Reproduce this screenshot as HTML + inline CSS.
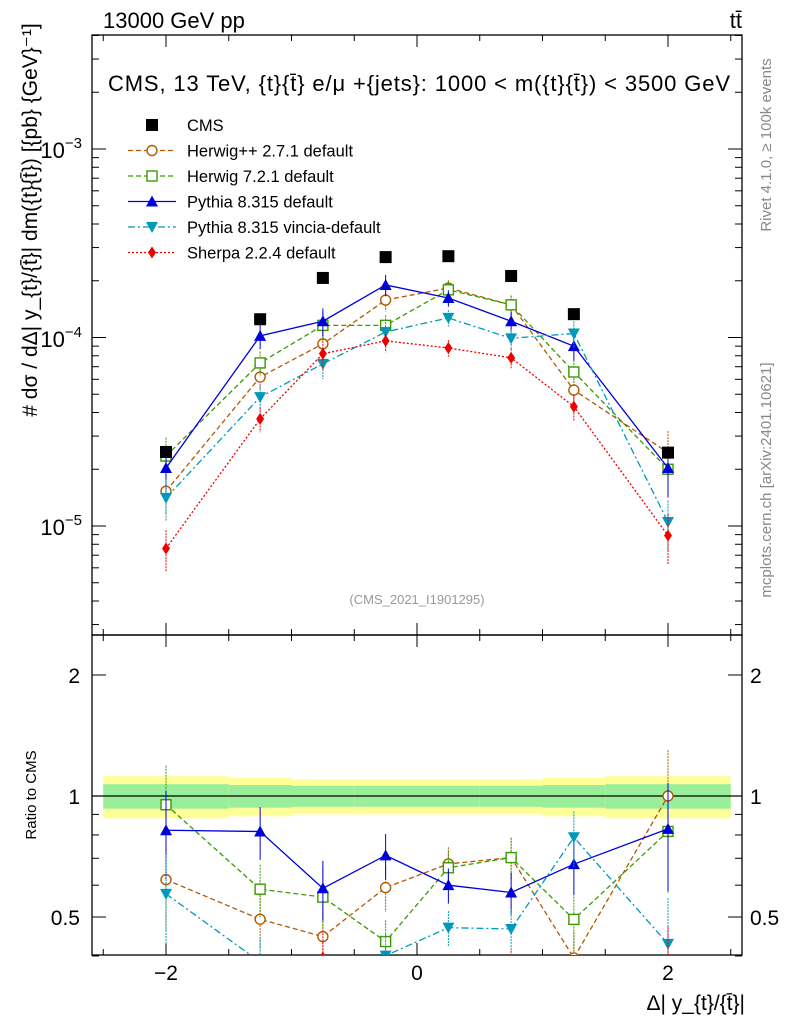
<!DOCTYPE html>
<html><head><meta charset="utf-8"><style>
html,body{margin:0;padding:0;background:#fff;}
svg{display:block;font-family:"Liberation Sans",sans-serif;}
</style></head><body>
<svg id="c" width="786" height="1024" viewBox="0 0 786 1024"></svg>
<script>
const categories=[-2,-1.25,-0.75,-0.25,0.25,0.75,1.25,2];
const cmsVals=[2.47e-5,1.25e-4,2.07e-4,2.67e-4,2.7e-4,2.12e-4,1.33e-4,2.45e-5];
const herwigppVals=[1.53e-5,6.17e-5,9.25e-5,1.58e-4,1.83e-4,1.49e-4,5.26e-5,2.45e-5];
const herwig7Vals=[2.35e-5,7.33e-5,1.16e-4,1.16e-4,1.79e-4,1.49e-4,6.56e-5,2.0e-5];
const pythiaVals=[2.03e-5,1.02e-4,1.22e-4,1.9e-4,1.62e-4,1.22e-4,9.0e-5,2.03e-5];
const vinciaVals=[1.41e-5,4.83e-5,7.25e-5,1.07e-4,1.27e-4,9.9e-5,1.05e-4,1.05e-5];
const sherpaVals=[7.6e-6,3.7e-5,8.2e-5,9.6e-5,8.8e-5,7.8e-5,4.3e-5,8.9e-6];
const binEdges=[-2.5,-1.5,-1,-0.5,0,0.5,1,1.5,2.5];
const bandOuter=[0.12,0.11,0.10,0.10,0.10,0.10,0.11,0.12];
const bandInner=[0.07,0.065,0.06,0.06,0.06,0.06,0.065,0.07];
const relErr=[0.25,0.15,0.17,0.13,0.1,0.12,0.16,0.3];
const xTicks=[-2,0,2];
const xTickLabels=["\u22122","0","2"];

const svg=document.getElementById('c');const NS="http://www.w3.org/2000/svg";
function el(t,a,p){const e=document.createElementNS(NS,t);for(const k in a)e.setAttribute(k,a[k]);(p||svg).appendChild(e);return e;}
const L=92,R=742,T=35,M=635,B=955;
const X=v=>417+v*125.5;
const Y=v=>149-(Math.log10(v)+3)*188.5;
const YR=v=>796-Math.log10(v)*402;

let f=el('rect',{x:L,y:T,width:R-L,height:M-T,fill:'none',stroke:'#000','stroke-width':1.3});

f=el('rect',{x:L,y:M,width:R-L,height:B-M,fill:'none',stroke:'#000','stroke-width':1.3});


for(let v=-2.5;v<=2.51;v+=0.5){const maj=Math.abs(v-Math.round(v))<1e-6&&Math.round(v)%2===0;const len=maj?12:6;const x=X(v);
 for(const [y0,d] of [[T,1],[M,-1],[M,1],[B,-1]])el('line',{x1:x,y1:y0,x2:x,y2:y0+d*len,stroke:'#000'});}
xTicks.forEach((v,i)=>{const t=el('text',{x:X(v),y:980,'font-size':21,'text-anchor':'middle'});t.textContent=xTickLabels[i];
});
for(let e=-6;e<=-2;e++)for(let m=1;m<10;m++){const v=m*Math.pow(10,e);const y=Y(v);if(y<T||y>M)continue;const len=m===1?14:7;
 el('line',{x1:L,y1:y,x2:L+len,y2:y,stroke:'#000'});el('line',{x1:R,y1:y,x2:R-len,y2:y,stroke:'#000'});}
[[-3,149],[-4,338],[-5,526]].forEach(([e,y])=>{const t=el('text',{x:82,y:y+9,'font-size':22,'text-anchor':'end'});
 t.innerHTML='10<tspan dy="-10" font-size="15">\u2212'+(-e)+'</tspan>';});
[0.4,0.5,0.6,0.7,0.8,0.9,1,2].forEach(v=>{const y=YR(v);const len=(v===1||v===2||v===0.5)?14:7;
 el('line',{x1:L,y1:y,x2:L+len,y2:y,stroke:'#000'});el('line',{x1:R,y1:y,x2:R-len,y2:y,stroke:'#000'});});
[[2,'2'],[1,'1'],[0.5,'0.5']].forEach(([v,s])=>{for(const [x,a] of [[80,'end'],[750,'start']]){const t=el('text',{x:x,y:YR(v)+8,'font-size':21,'text-anchor':a});t.textContent=s;
 }});

categories.forEach((c,i)=>{const x0=X(binEdges[i]),x1=X(binEdges[i+1]);
 let r=el('rect',{x:x0,y:YR(1+bandOuter[i]),width:x1-x0,height:YR(1-bandOuter[i])-YR(1+bandOuter[i]),fill:'#ffff99'});
 
 r=el('rect',{x:x0,y:YR(1+bandInner[i]),width:x1-x0,height:YR(1-bandInner[i])-YR(1+bandInner[i]),fill:'#99ee99'});
 });
el('line',{x1:L,y1:YR(1),x2:R,y2:YR(1),stroke:'#000','stroke-width':1.3});

const series=[
 {n:'herwigpp',v:herwigppVals,c:'#b35900',d:'5,3',m:'circle'},
 {n:'herwig7',v:herwig7Vals,c:'#3a9a00',d:'5,3',m:'square'},
 {n:'pythia',v:pythiaVals,c:'#0000dd',d:'',m:'tri'},
 {n:'vincia',v:vinciaVals,c:'#0099bb',d:'7,3,2,3',m:'tridown'},
 {n:'sherpa',v:sherpaVals,c:'#ee0000',d:'2,2',m:'diamond'}];
function marker(m,x,y,c,g){if(m==='circle')return el('circle',{cx:x,cy:y,r:5,fill:'#fff',stroke:c,'stroke-width':1.4},g);
 if(m==='square')return el('rect',{x:x-5,y:y-5,width:10,height:10,fill:'#fff',stroke:c,'stroke-width':1.4},g);
 if(m==='tri')return el('polygon',{points:`${x},${y-6} ${x-6},${y+5} ${x+6},${y+5}`,fill:c},g);
 if(m==='tridown')return el('polygon',{points:`${x},${y+6} ${x-6},${y-5} ${x+6},${y-5}`,fill:c},g);
 if(m==='diamond')return el('polygon',{points:`${x},${y-6} ${x-4},${y} ${x},${y+6} ${x+4},${y}`,fill:c},g);
 return el('rect',{x:x-6,y:y-6,width:12,height:12,fill:c},g);}

const clipM=el('clipPath',{id:'cm'});el('rect',{x:L,y:T,width:R-L,height:M-T},clipM);
const clipR=el('clipPath',{id:'cr'});el('rect',{x:L,y:M,width:R-L,height:B-M},clipR);
series.forEach(s=>{
 const g=el('g',{'clip-path':'url(#cm)'});
 el('polyline',{points:categories.map((c,i)=>X(c)+','+Y(s.v[i])).join(' '),fill:'none',stroke:s.c,'stroke-width':1.3,'stroke-dasharray':s.d},g);
 categories.forEach((c,i)=>{const e=relErr[i];el('line',{x1:X(c),x2:X(c),y1:Y(s.v[i]*(1+e)),y2:Y(s.v[i]*(1-e)),stroke:s.c,'stroke-dasharray':s.d?'2,1':''},g);
  const mk=marker(s.m,X(c),Y(s.v[i]),s.c,g);});
 const gr=el('g',{'clip-path':'url(#cr)'});
 const r=categories.map((c,i)=>s.v[i]/cmsVals[i]);
 el('polyline',{points:categories.map((c,i)=>X(c)+','+YR(r[i])).join(' '),fill:'none',stroke:s.c,'stroke-width':1.3,'stroke-dasharray':s.d},gr);
 categories.forEach((c,i)=>{const e=relErr[i];el('line',{x1:X(c),x2:X(c),y1:YR(r[i]*(1+e)),y2:YR(Math.max(r[i]*(1-e),0.01)),stroke:s.c,'stroke-dasharray':s.d?'2,1':''},gr);
  const mk=marker(s.m,X(c),YR(r[i]),s.c,gr);});
});
categories.forEach((c,i)=>{const mk=marker('sq',X(c),Y(cmsVals[i]),'#000');});

const leg=[['CMS','#000','','sq'],['Herwig++ 2.7.1 default','#b35900','5,3','circle'],['Herwig 7.2.1 default','#3a9a00','5,3','square'],
 ['Pythia 8.315 default','#0000dd','','tri'],['Pythia 8.315 vincia-default','#0099bb','7,3,2,3','tridown'],['Sherpa 2.2.4 default','#ee0000','2,2','diamond']];
leg.forEach((l,i)=>{const y=125+i*25.5;const g=el('g',{});
 if(i>0)el('line',{x1:128,x2:176,y1:y,y2:y,stroke:l[1],'stroke-width':1.3,'stroke-dasharray':l[2]},g);
 marker(l[3],152,y,l[1],g);const t=el('text',{x:187,y:y+6,'font-size':16.5},g);t.textContent=l[0];});

function txt(x,y,s,a,name,extra){const t=el('text',Object.assign({x:x,y:y,'font-size':a},extra||{}));t.textContent=s;return t;}
txt(103,28,'13000 GeV pp',22,'header-process');
txt(742,28,'tt\u0304',22,'header-tt',{'text-anchor':'end'});
txt(419,91,'CMS, 13 TeV, {t}{t\u0304} e/\u03bc +{jets}: 1000 < m({t}{t\u0304}) < 3500 GeV',22,'plot-title',{'text-anchor':'middle',textLength:622});
txt(417,604,'(CMS_2021_I1901295)',13,'analysis-id',{'text-anchor':'middle',fill:'#999'});
txt(766,150,'Rivet 4.1.0, \u2265 100k events',15,'rivet-label',{fill:'#888','text-anchor':'middle',transform:'rotate(-90 766 145)'});
txt(766,485,'mcplots.cern.ch [arXiv:2401.10621]',15,'mcplots-label',{fill:'#888','text-anchor':'middle',transform:'rotate(-90 766 480)'});
txt(745,1010,'\u0394| y_{t}/{t\u0304}|',21,'x-axis-title',{'text-anchor':'end'});
txt(36,795,'Ratio to CMS',15,'ratio-y-title',{'text-anchor':'middle',transform:'rotate(-90 36 795)'});
txt(30,227,'# d\u03c3 / d\u0394| y_{t}/{t\u0304}| dm({t}{t\u0304}) [{pb} {GeV}\u207b\u00b9]',21,'y-axis-title',{'text-anchor':'middle',transform:'rotate(-90 30 220)'});
</script>
</body></html>
